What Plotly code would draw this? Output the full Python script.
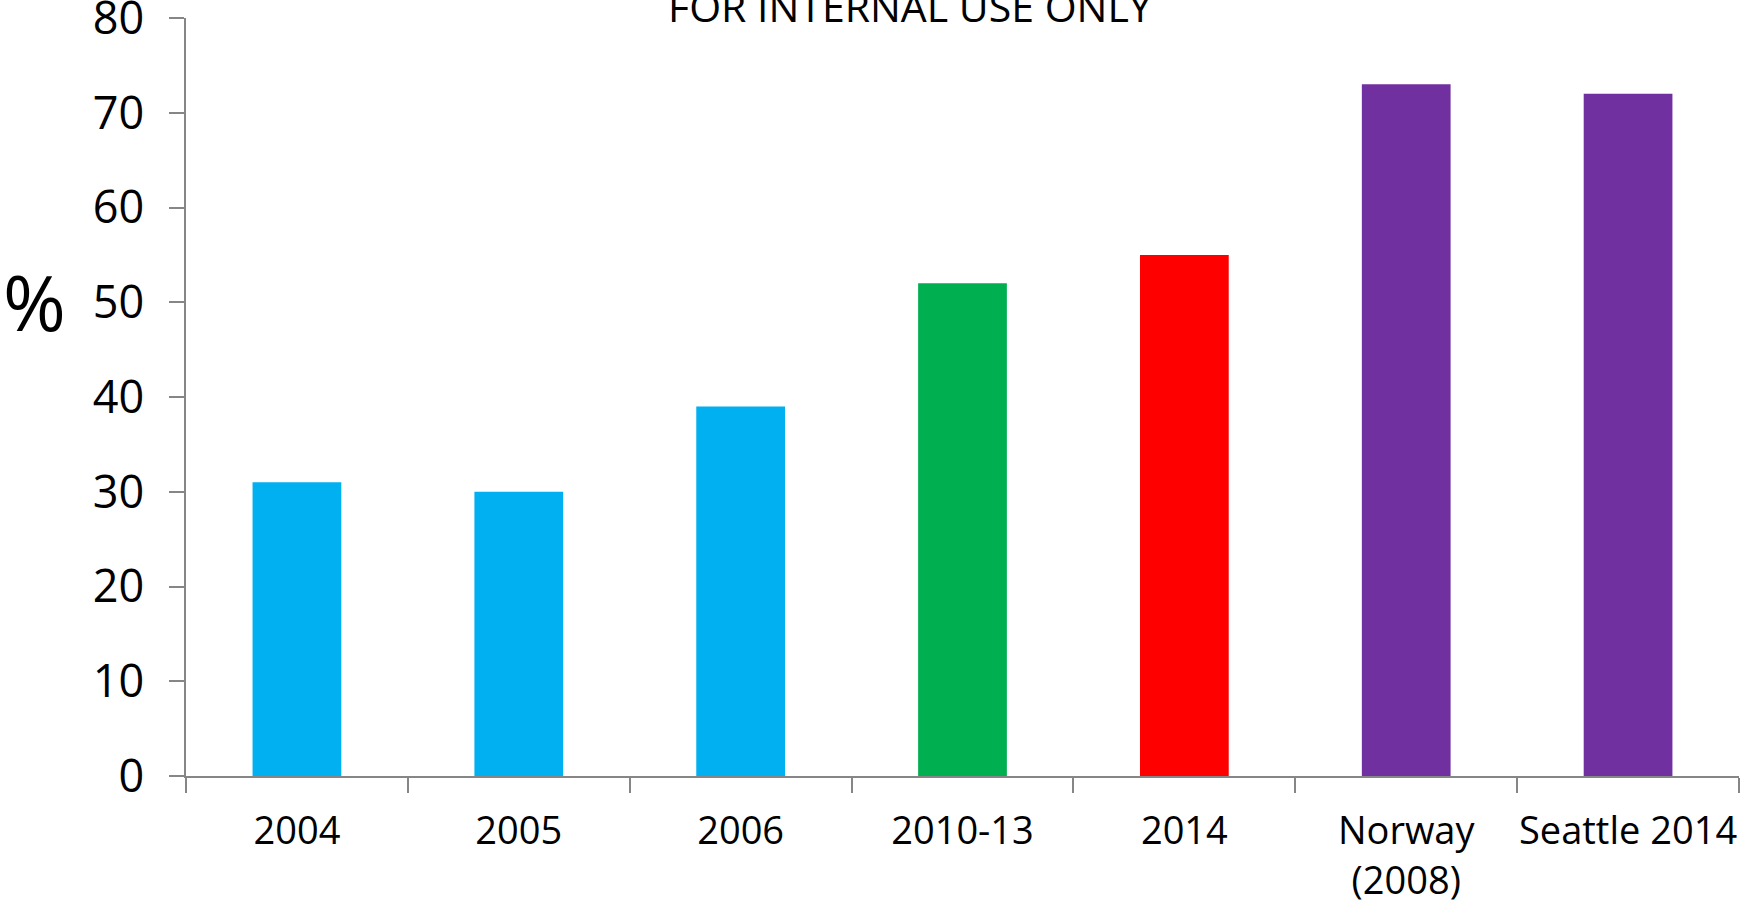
import plotly.graph_objects as go

categories = ["2004", "2005", "2006", "2010-13", "2014", "Norway<br>(2008)", "Seattle 2014"]
values = [31, 30, 39, 52, 55, 73, 72]
bar_colors = ["#00B0F0", "#00B0F0", "#00B0F0", "#00B050", "#FF0000", "#7030A0", "#7030A0"]
y_ticks = [0, 10, 20, 30, 40, 50, 60, 70, 80]
title_text = "FOR INTERNAL USE ONLY"
y_label = "%"

FONT = "Open Sans"
AXIS = "#868686"

W, H = 1740, 902
L, T, R, B = 186, 18, 1, 126
PW = W - L - R
PH = H - T - B

fig = go.Figure(go.Bar(
    x=categories, y=values, marker_color=bar_colors, marker_line_width=0, width=0.4,
))

fig.update_layout(
    width=W, height=H,
    margin=dict(l=L, r=R, t=T, b=B, autoexpand=False),
    plot_bgcolor="white", paper_bgcolor="white",
    showlegend=False,
    font=dict(family=FONT, color="black"),
)
fig.update_xaxes(
    type="category", range=[-0.5, 6.5],
    showline=True, linecolor=AXIS, linewidth=1.5,
    ticks="outside", tickson="boundaries", ticklen=15, tickcolor=AXIS, tickwidth=1.5,
    tickfont=dict(size=38, family=FONT, color="black"),
    tickangle=0, automargin=False, ticklabeloverflow="allow",
    ticklabelstandoff=21,
    showgrid=False, zeroline=False,
)
fig.update_yaxes(
    range=[0, 80], tickvals=y_ticks, ticktext=[str(v) for v in y_ticks],
    showline=True, linecolor=AXIS, linewidth=1.5,
    ticks="outside", ticklen=15, tickcolor=AXIS, tickwidth=1.5,
    tickfont=dict(size=45, family=FONT, color="black"),
    ticklabelstandoff=16, automargin=False, ticklabeloverflow="allow",
    showgrid=False, zeroline=False,
)
fig.add_annotation(
    text=title_text, xref="paper", yref="paper",
    x=(910 - L) / PW, y=1 + (T - 6) / PH,
    xanchor="center", yanchor="middle", showarrow=False,
    font=dict(size=41, family=FONT, color="black"),
)
fig.add_annotation(
    text=y_label, xref="paper", yref="paper",
    x=(34 - L) / PW, y=(776 - 302) / PH,
    xanchor="center", yanchor="middle", showarrow=False,
    font=dict(size=76, family=FONT, color="black"),
)

fig.write_html(
    "out.html",
    config={"displayModeBar": False},
    post_script="document.body.style.margin='0';",
)
